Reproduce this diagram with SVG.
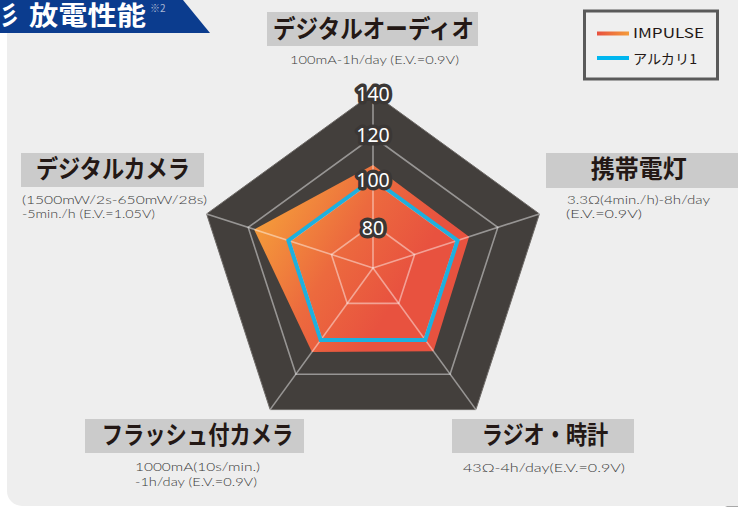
<svg xmlns="http://www.w3.org/2000/svg" width="738" height="507" viewBox="0 0 738 507">
  <defs>
    <linearGradient id="gImp" gradientUnits="userSpaceOnUse" x1="255" y1="215" x2="395" y2="300">
      <stop offset="0" stop-color="#f59f3a"/>
      <stop offset="0.55" stop-color="#ec6a3e"/>
      <stop offset="1" stop-color="#e8523f"/>
    </linearGradient>
    <linearGradient id="gLeg" x1="0" y1="0" x2="1" y2="0">
      <stop offset="0" stop-color="#e8503f"/>
      <stop offset="1" stop-color="#f49c3a"/>
    </linearGradient>
    <style>
      .cat { font-family: "Noto Sans CJK JP", "Noto Sans", sans-serif; font-weight: bold; font-size: 25px; fill: #231815; }
      .catbox { fill: #cbcbcb; }
      .sub { font-family: Lato, "Liberation Sans", "Noto Sans CJK JP", sans-serif; font-weight: 300; font-size: 12px; fill: #3a3a3a; }
      .grid { fill: none; stroke: #ffffff; stroke-opacity: 0.45; stroke-width: 1.6; }
      .val { font-family: "Noto Sans", "Liberation Sans", sans-serif; font-size: 19.5px; fill: #ffffff; stroke: #3b3735; stroke-width: 7px; stroke-linejoin: round; paint-order: stroke; text-anchor: middle; }
      .leg { font-family: "Noto Sans CJK JP", "Noto Sans", sans-serif; font-size: 13.5px; fill: #231815; }
      .ttl { font-family: "Noto Sans CJK JP", sans-serif; font-weight: bold; font-size: 26px; fill: #ffffff; }
    </style>
  </defs>

  <!-- background -->
  <rect x="0" y="0" width="738" height="507" fill="#ffffff"/>
  <path d="M738,486 Q737,503 725,507 L738,507 Z" fill="#a8a8a8"/>
  <rect x="7" y="-20" width="760" height="526" rx="15" fill="#eeeeee"/>

  <!-- title -->
  <g id="title">
    <polygon points="0,0 183,0 210,33 0,33" fill="#0b3c8e"/>
    <text class="ttl" x="0" y="24.5" textLength="19" lengthAdjust="spacingAndGlyphs">彡</text>
    <text class="ttl" x="29" y="24.5" textLength="117" lengthAdjust="spacingAndGlyphs">放電性能</text>
    <text x="150" y="12" font-family="Noto Sans CJK JP, sans-serif" font-size="10" fill="#a9b6d3">※2</text>
  </g>

  <!-- legend -->
  <g id="legend">
    <rect x="584.5" y="11" width="133" height="68" fill="#efefef" stroke="#5a5a5a" stroke-width="3"/>
    <rect x="597" y="31.5" width="32" height="4" fill="url(#gLeg)"/>
    <text class="leg" x="633" y="38" textLength="71" lengthAdjust="spacingAndGlyphs">IMPULSE</text>
    <rect x="597" y="56" width="32" height="4" fill="#00b6ef"/>
    <text class="leg" x="633" y="63.5" textLength="64" lengthAdjust="spacingAndGlyphs">アルカリ1</text>
  </g>

  <!-- radar chart -->
  <g id="radar">
    <polygon points="373,93 539.4,213.9 475.9,409.6 270.1,409.6 206.6,213.9" fill="#433f3c" stroke="#6e6a67" stroke-width="1"/>
    <polygon id="impulse" points="373,165 469.1,236.8 433.5,351.3 311.9,352.1 254.1,229.4" fill="url(#gImp)"/>
    <g id="grid" class="grid">
      <polygon points="373,136.75 497.8,227.4 450.1,374.2 295.9,374.2 248.2,227.4"/>
      <polygon points="373,180.5 456.2,241 424.4,338.8 321.6,338.8 289.8,241"/>
      <polygon points="373,224.25 414.6,254.5 398.7,303.4 347.3,303.4 331.4,254.5"/>
      <line x1="373" y1="268" x2="373" y2="93"/>
      <line x1="373" y1="268" x2="539.4" y2="213.9"/>
      <line x1="373" y1="268" x2="475.9" y2="409.6"/>
      <line x1="373" y1="268" x2="270.1" y2="409.6"/>
      <line x1="373" y1="268" x2="206.6" y2="213.9"/>
    </g>
    <polygon id="alkaline" points="373,179 457.6,240.5 425.3,340 320.7,340 288.4,240.5" fill="none" stroke="#1eb0de" stroke-width="4" stroke-linejoin="miter"/>
    <g id="values">
      <text class="val" x="373" y="100.5">140</text>
      <text class="val" x="373" y="141.5">120</text>
      <text class="val" x="373" y="187">100</text>
      <text class="val" x="373" y="235">80</text>
    </g>
  </g>

  <g id="connectors"></g>

  <!-- categories -->
  <g id="cat-audio">
    <rect class="catbox" x="267" y="12" width="211" height="34"/>
    <text class="cat" x="373.5" y="38" text-anchor="middle" textLength="201" lengthAdjust="spacingAndGlyphs">デジタルオーディオ</text>
    <text class="sub" x="290" y="64" textLength="169" lengthAdjust="spacingAndGlyphs">100mA-1h/day (E.V.=0.9V)</text>
  </g>

  <g id="cat-camera">
    <rect class="catbox" x="21" y="153" width="183" height="34"/>
    <text class="cat" x="112.9" y="177.5" text-anchor="middle" textLength="154" lengthAdjust="spacingAndGlyphs">デジタルカメラ</text>
    <text class="sub" x="22" y="204" textLength="185" lengthAdjust="spacingAndGlyphs">(1500mW/2s-650mW/28s)</text>
    <text class="sub" x="22" y="217.8" textLength="133" lengthAdjust="spacingAndGlyphs">-5min./h (E.V.=1.05V)</text>
  </g>

  <g id="cat-light">
    <rect class="catbox" x="546" y="153" width="192" height="35"/>
    <text class="cat" x="638.8" y="178" text-anchor="middle" textLength="96" lengthAdjust="spacingAndGlyphs">携帯電灯</text>
    <text class="sub" x="567" y="204" textLength="143" lengthAdjust="spacingAndGlyphs">3.3Ω(4min./h)-8h/day</text>
    <text class="sub" x="566" y="218" textLength="76" lengthAdjust="spacingAndGlyphs">(E.V.=0.9V)</text>
  </g>

  <g id="cat-flash">
    <rect class="catbox" x="85" y="419" width="219" height="34"/>
    <text class="cat" x="197.5" y="444" text-anchor="middle" textLength="191.6" lengthAdjust="spacingAndGlyphs">フラッシュ付カメラ</text>
    <text class="sub" x="135" y="471" textLength="125" lengthAdjust="spacingAndGlyphs">1000mA(10s/min.)</text>
    <text class="sub" x="135" y="485.5" textLength="122" lengthAdjust="spacingAndGlyphs">-1h/day (E.V.=0.9V)</text>
  </g>

  <g id="cat-radio">
    <rect class="catbox" x="452" y="419" width="182" height="34"/>
    <text class="cat" x="545" y="444" text-anchor="middle" textLength="126.6" lengthAdjust="spacingAndGlyphs">ラジオ・時計</text>
    <text class="sub" x="463" y="471.7" textLength="162" lengthAdjust="spacingAndGlyphs">43Ω-4h/day(E.V.=0.9V)</text>
  </g>
</svg>
